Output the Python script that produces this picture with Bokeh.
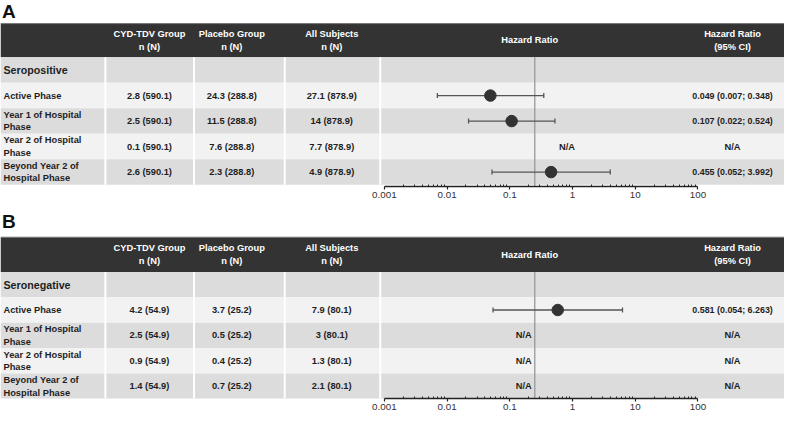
import math
from bokeh.plotting import figure
from bokeh.models import Range1d, LogScale, LogAxis, FixedTicker
from bokeh.layouts import column
from bokeh.embed import file_html
from bokeh.resources import INLINE
from bokeh.core.properties import value

# ---------------- data ----------------
phase_labels = ["Active Phase", "Year 1 of Hospital\nPhase",
                "Year 2 of Hospital\nPhase", "Beyond Year 2 of\nHospital Phase"]
col_headers = ["CYD-TDV Group\nn (N)", "Placebo Group\nn (N)", "All Subjects\nn (N)"]
hr_header = "Hazard Ratio"
ci_header = "Hazard Ratio\n(95% CI)"
tick_values = [0.001, 0.01, 0.1, 1.0, 10.0, 100.0]
tick_labels = ["0.001", "0.01", "0.1", "1", "10", "100"]
ref_line_hr = 0.25

# Panel A: seropositive
a_letter = "A"
a_group = "Seropositive"
a_cyd_n = [2.8, 2.5, 0.1, 2.6]
a_cyd_N = 590.1
a_pla_n = [24.3, 11.5, 7.6, 2.3]
a_pla_N = 288.8
a_all_n = [27.1, 14, 7.7, 4.9]
a_all_N = 878.9
a_hr = [0.049, 0.107, None, 0.455]
a_lo = [0.007, 0.022, None, 0.052]
a_hi = [0.348, 0.524, None, 3.992]

# Panel B: seronegative
b_letter = "B"
b_group = "Seronegative"
b_cyd_n = [4.2, 2.5, 0.9, 1.4]
b_cyd_N = 54.9
b_pla_n = [3.7, 0.5, 0.4, 0.7]
b_pla_N = 25.2
b_all_n = [7.9, 3, 1.3, 2.1]
b_all_N = 80.1
b_hr = [0.581, None, None, None]
b_lo = [0.054, None, None, None]
b_hi = [6.263, None, None, None]

# ---------------- layout constants ----------------
W = 784
SX = W / 800.0
SY = 413.0 / 429.0
FONT = "Liberation Sans"
HEADER_BG = "#333333"
ROW_COLORS = ["#dcdcdc", "#f2f2f2"]
TXT = "#1e1e1e"
COL_X = [152, 236, 338]
SEP_X = [107, 197.5, 290, 387.5]
HR_HEAD_X = 540
CI_X = 747
LOG0_X = 391.7   # reference x of 0.001
DEC_PX = 64.0    # px per decade


def fmt(n, N):
    return f"{n:g} ({N:g})"


def make_panel(letter, group, cyd_n, cyd_N, pla_n, pla_N, all_n, all_N,
               hr, lo, hi, top, axis_y, bottom, letter_y, head_top, head_bot,
               row_h, na_x):
    frame_px = round((axis_y - top) * SY)
    border_px = round((bottom - axis_y) * SY)
    p = figure(frame_width=W, frame_height=frame_px,
               x_range=Range1d(0, 800),
               y_range=Range1d(top + frame_px / SY, top),
               x_axis_location=None, y_axis_location=None,
               toolbar_location=None, output_backend="svg",
               min_border_left=0, min_border_right=0, min_border_top=0,
               min_border_bottom=border_px, outline_line_color=None,
               background_fill_color="white", border_fill_color="white")
    p.xgrid.visible = False
    p.ygrid.visible = False

    lo_log = -3 - LOG0_X / DEC_PX
    hi_log = -3 + (800 - LOG0_X) / DEC_PX
    p.extra_x_ranges = {"hr": Range1d(10 ** lo_log, 10 ** hi_log)}
    p.extra_x_scales = {"hr": LogScale()}

    # header band
    p.quad(left=[0], right=[800], top=[head_top], bottom=[head_bot],
           fill_color=HEADER_BG, line_color=None)
    p.segment(x0=[0], x1=[800], y0=[head_top], y1=[head_top],
              line_color="#777777", line_width=1)
    # rows
    n_rows = len(phase_labels) + 1
    tops = [head_bot + i * row_h for i in range(n_rows)]
    bots = [t + row_h for t in tops]
    cols = [ROW_COLORS[i % 2] for i in range(n_rows)]
    p.quad(left=[0] * n_rows, right=[800] * n_rows, top=tops, bottom=bots,
           fill_color=cols, line_color=None)
    # column separators
    p.segment(x0=SEP_X, x1=SEP_X, y0=[head_bot] * 4, y1=[bots[-1]] * 4,
              line_color="white", line_width=2 * SX)

    fs = value("9.3px")
    common = dict(text_font=value(FONT), text_font_style="bold",
                  text_baseline="middle", text_line_height=1.25)

    # letter
    p.text(x=[1.5], y=[letter_y], text=[letter], text_color="#111",
           text_font_size=value("19px"), text_align="left",
           text_font=value(FONT), text_font_style="bold", text_baseline="middle")

    head_mid = (head_top + head_bot) / 2
    p.text(x=COL_X, y=[head_mid] * 3, text=col_headers, text_color="white",
           text_font_size=fs, text_align="center", **common)
    p.text(x=[HR_HEAD_X], y=[head_mid], text=[hr_header], text_color="white",
           text_font_size=fs, text_align="center", **common)
    p.text(x=[CI_X], y=[head_mid], text=[ci_header], text_color="white",
           text_font_size=fs, text_align="center", **common)

    # group label
    p.text(x=[3], y=[(tops[0] + bots[0]) / 2], text=[group], text_color=TXT,
           text_font_size=value("10.7px"), text_align="left", **common)

    ys = [(tops[i + 1] + bots[i + 1]) / 2 for i in range(len(phase_labels))]
    p.text(x=[3] * 4, y=ys, text=phase_labels, text_color=TXT,
           text_font_size=fs, text_align="left", **common)
    for cx, ns, N in zip(COL_X, [cyd_n, pla_n, all_n], [cyd_N, pla_N, all_N]):
        p.text(x=[cx] * 4, y=ys, text=[fmt(n, N) for n in ns], text_color=TXT,
               text_font_size=fs, text_align="center", **common)

    # reference line
    p.segment(x0=[ref_line_hr], x1=[ref_line_hr], y0=[head_bot], y1=[axis_y],
              line_color="#999999", line_width=1.3, x_range_name="hr")

    # forest marks
    pts = [(h, l, u, y) for h, l, u, y in zip(hr, lo, hi, ys) if h is not None]
    if pts:
        hs = [q[0] for q in pts]
        ls = [q[1] for q in pts]
        us = [q[2] for q in pts]
        yy = [q[3] for q in pts]
        cap = 2.6
        p.segment(x0=ls, x1=us, y0=yy, y1=yy, line_color="#555555",
                  line_width=1.3, x_range_name="hr")
        p.segment(x0=ls + us, x1=ls + us, y0=[y - cap for y in yy] * 2,
                  y1=[y + cap for y in yy] * 2, line_color="#555555",
                  line_width=1.3, x_range_name="hr")
        p.scatter(x=hs, y=yy, size=11.5, fill_color="#333333",
                  line_color="#333333", x_range_name="hr")
        p.text(x=[CI_X] * len(pts), y=yy,
               text=[f"{h:.3f} ({l:.3f}; {u:.3f})" for h, l, u in zip(hs, ls, us)],
               text_color=TXT, text_font_size=value("8.9px"),
               text_align="center", **common)
    na_y = [y for h, y in zip(hr, ys) if h is None]
    if na_y:
        p.text(x=[na_x] * len(na_y), y=na_y, text=["N/A"] * len(na_y),
               text_color=TXT, text_font_size=fs, text_align="center", **common)
        p.text(x=[CI_X] * len(na_y), y=na_y, text=["N/A"] * len(na_y),
               text_color=TXT, text_font_size=fs, text_align="center", **common)

    # log axis
    minor = [m * 10 ** e for e in range(-3, 2) for m in range(2, 10)]
    ax = LogAxis(x_range_name="hr",
                 ticker=FixedTicker(ticks=tick_values, minor_ticks=minor),
                 bounds=(0.001, 100),
                 major_label_overrides=dict(zip(tick_values, tick_labels)))
    ax.axis_line_color = "#222222"
    ax.axis_line_width = 1.4
    ax.major_tick_in = 0
    ax.major_tick_out = 3
    ax.major_tick_line_color = "#222222"
    ax.major_tick_line_width = 1.2
    ax.minor_tick_in = 2
    ax.minor_tick_out = 0
    ax.minor_tick_line_color = "#222222"
    ax.major_label_standoff = 2
    ax.major_label_text_font = FONT
    ax.major_label_text_font_size = "9.8px"
    ax.major_label_text_color = "#333333"
    p.add_layout(ax, "below")
    return p


pa = make_panel(a_letter, a_group, a_cyd_n, a_cyd_N, a_pla_n, a_pla_N,
                a_all_n, a_all_N, a_hr, a_lo, a_hi,
                top=0, axis_y=193, bottom=212, letter_y=11.5,
                head_top=24, head_bot=59, row_h=26.5, na_x=578)
pb = make_panel(b_letter, b_group, b_cyd_n, b_cyd_N, b_pla_n, b_pla_N,
                b_all_n, b_all_N, b_hr, b_lo, b_hi,
                top=212, axis_y=414, bottom=429, letter_y=230,
                head_top=246, head_bot=282, row_h=26.4, na_x=534)

layout = column(pa, pb, spacing=0)
open("out.html", "w").write(file_html(layout, INLINE))
